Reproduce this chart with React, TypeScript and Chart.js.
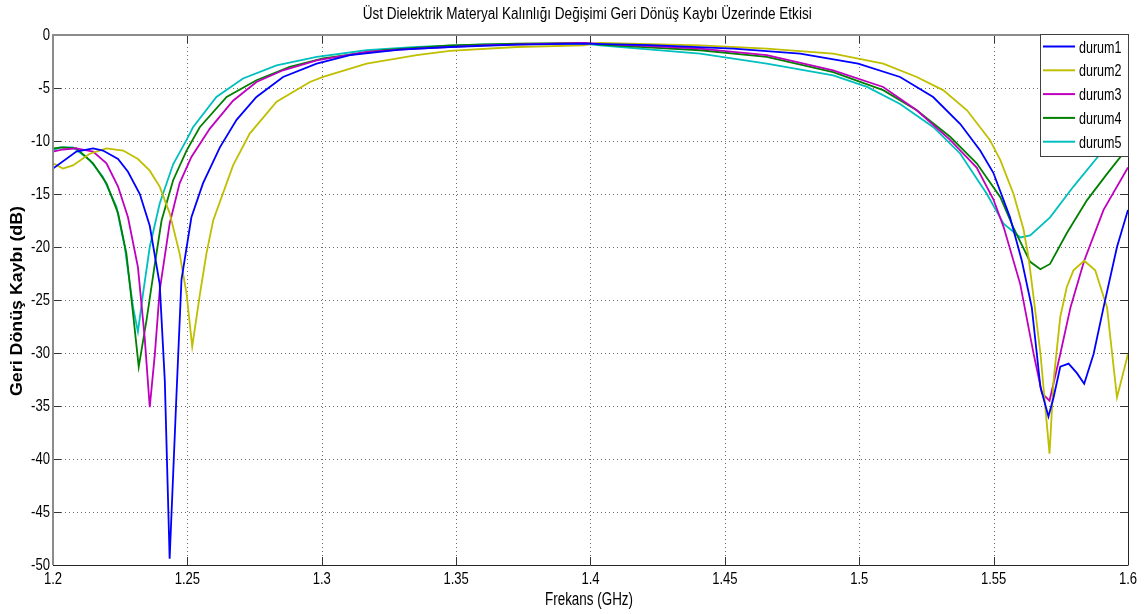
import React, { useEffect, useRef } from "react";
import { Chart, registerables } from "chart.js";

Chart.register(...registerables);

const titleText = "Üst Dielektrik Materyal Kalınlığı Değişimi Geri Dönüş Kaybı Üzerinde Etkisi";
const xAxisTitle = "Frekans (GHz)";
const yAxisTitle = "Geri Dönüş Kaybı (dB)";

const seriesNames = ["durum1", "durum2", "durum3", "durum4", "durum5"];
const seriesColors = ["#0000ff", "#bfbf00", "#bf00bf", "#008000", "#00bfbf"];

const xTicks = [1.2, 1.25, 1.3, 1.35, 1.4, 1.45, 1.5, 1.55, 1.6];
const xTickLabels = ["1.2", "1.25", "1.3", "1.35", "1.4", "1.45", "1.5", "1.55", "1.6"];
const yTicks = [0, -5, -10, -15, -20, -25, -30, -35, -40, -45, -50];
const yTickLabels = ["0", "-5", "-10", "-15", "-20", "-25", "-30", "-35", "-40", "-45", "-50"];

const durum1Freq = [1.2, 1.2087, 1.2149, 1.2186, 1.2242, 1.2279, 1.2323, 1.236, 1.2397, 1.2416, 1.2434, 1.2459, 1.2478, 1.2515, 1.2558, 1.2621, 1.2683, 1.2757, 1.2856, 1.2981, 1.3105, 1.3291, 1.3477, 1.3725, 1.3972, 1.4222, 1.4531, 1.478, 1.4996, 1.5152, 1.5275, 1.5376, 1.545, 1.5499, 1.5561, 1.5605, 1.5642, 1.5674, 1.5704, 1.5723, 1.5748, 1.5779, 1.581, 1.5837, 1.5872, 1.5909, 1.5959, 1.6];
const durum1Db = [-12.6, -11.0, -10.7, -10.9, -11.7, -12.9, -15.0, -18.0, -23.5, -32.6, -49.4, -34.2, -23.1, -17.2, -14.0, -10.6, -8.0, -5.85, -3.96, -2.7, -1.9, -1.38, -1.13, -0.9, -0.82, -0.95, -1.28, -1.75, -2.7, -3.96, -5.85, -8.4, -10.9, -13.0, -17.2, -21.3, -25.7, -33.2, -36.0, -34.2, -31.3, -31.0, -31.9, -32.9, -30.1, -25.7, -20.0, -16.5];

const durum2Freq = [1.2, 1.2037, 1.2074, 1.2137, 1.2199, 1.2261, 1.2316, 1.236, 1.2397, 1.2434, 1.2471, 1.2497, 1.2518, 1.2547, 1.2571, 1.2596, 1.2670, 1.2732, 1.2832, 1.2956, 1.3005, 1.3167, 1.3353, 1.3477, 1.3725, 1.3972, 1.4035, 1.4408, 1.4656, 1.4903, 1.5089, 1.5214, 1.5312, 1.5401, 1.5486, 1.5525, 1.5574, 1.5611, 1.563, 1.5649, 1.5674, 1.5708, 1.5723, 1.5748, 1.5772, 1.5797, 1.5837, 1.5878, 1.5922, 1.5959, 1.6];
const durum2Db = [-12.1, -12.6, -12.3, -11.2, -10.7, -10.9, -11.7, -12.8, -14.3, -16.8, -20.6, -24.4, -29.4, -24.4, -20.6, -17.5, -12.3, -9.3, -6.3, -4.43, -3.96, -2.7, -1.9, -1.5, -1.13, -0.97, -0.75, -0.97, -1.28, -1.75, -2.7, -3.96, -5.2, -7.1, -9.9, -11.8, -15.0, -18.3, -21.0, -24.8, -30.0, -39.5, -32.6, -26.6, -23.8, -22.2, -21.3, -22.2, -25.7, -34.2, -30.1];

const durum3Freq = [1.2, 1.2037, 1.2087, 1.2149, 1.2199, 1.2242, 1.2279, 1.2316, 1.2341, 1.236, 1.2379, 1.2397, 1.2434, 1.2471, 1.2515, 1.2583, 1.267, 1.2757, 1.2856, 1.2981, 1.3167, 1.3353, 1.36, 1.3972, 1.4035, 1.4408, 1.4656, 1.4903, 1.5089, 1.5214, 1.5338, 1.5437, 1.5499, 1.5537, 1.5599, 1.5649, 1.568, 1.5708, 1.5748, 1.5786, 1.5837, 1.5909, 1.6];
const durum3Db = [-11.0, -10.8, -10.7, -11.0, -12.1, -14.3, -17.2, -21.9, -28.5, -35.1, -30.1, -24.1, -17.8, -14.0, -11.5, -8.85, -6.2, -4.43, -3.33, -2.4, -1.6, -1.28, -0.97, -0.75, -0.82, -1.28, -1.9, -3.33, -4.9, -7.1, -9.9, -12.5, -15.5, -18.1, -23.5, -30.1, -33.8, -34.5, -30.1, -25.7, -21.3, -16.5, -12.5];

const durum4Freq = [1.2, 1.2037, 1.2087, 1.2149, 1.2199, 1.2242, 1.2273, 1.2298, 1.2319, 1.2348, 1.2379, 1.2404, 1.2447, 1.2497, 1.2546, 1.2646, 1.2757, 1.2881, 1.3005, 1.3229, 1.3477, 1.3725, 1.3972, 1.4035, 1.4408, 1.4656, 1.4903, 1.5089, 1.5214, 1.5338, 1.5437, 1.5525, 1.5574, 1.5636, 1.5674, 1.571, 1.5772, 1.5847, 1.5922, 1.6];
const durum4Db = [-10.7, -10.6, -10.7, -12.1, -14.0, -16.8, -20.6, -26.3, -31.3, -26.9, -21.6, -17.5, -13.7, -10.9, -8.7, -5.85, -4.27, -3.0, -2.2, -1.44, -0.97, -0.82, -0.75, -0.9, -1.44, -2.07, -3.5, -5.2, -7.1, -9.6, -12.1, -15.3, -18.2, -21.4, -22.1, -21.6, -18.7, -15.6, -13.1, -10.6];

const durum5Freq = [1.2, 1.2025, 1.2074, 1.2137, 1.2186, 1.2236, 1.2267, 1.2298, 1.2316, 1.2335, 1.236, 1.2397, 1.2447, 1.2497, 1.2521, 1.2608, 1.2707, 1.2832, 1.2981, 1.3167, 1.3353, 1.36, 1.3972, 1.4035, 1.4408, 1.4656, 1.4903, 1.5029, 1.5152, 1.5276, 1.5376, 1.5475, 1.5537, 1.5599, 1.5636, 1.571, 1.5797, 1.5897, 1.5922, 1.6];
const durum5Db = [-10.9, -10.6, -10.6, -11.8, -13.4, -16.2, -20.0, -25.7, -28.0, -24.4, -20.0, -15.9, -12.2, -9.9, -8.7, -5.85, -4.1, -2.86, -2.07, -1.44, -1.13, -0.88, -0.82, -0.97, -1.75, -2.7, -3.8, -4.9, -6.5, -8.7, -11.2, -15.0, -17.8, -19.1, -18.9, -17.2, -14.3, -11.2, -10.2, -9.0];

const seriesFreq = [durum1Freq, durum2Freq, durum3Freq, durum4Freq, durum5Freq];
const seriesDb = [durum1Db, durum2Db, durum3Db, durum4Db, durum5Db];

const FONT = '"Liberation Sans", Arial, Helvetica, sans-serif';

// draw text with a horizontal squeeze (narrow MATLAB-like glyphs)
function drawSqueezed(
  ctx: CanvasRenderingContext2D,
  text: string,
  x: number,
  y: number,
  font: string,
  scaleX: number,
  align: CanvasTextAlign
) {
  ctx.save();
  ctx.font = font;
  ctx.textAlign = align;
  ctx.textBaseline = "middle";
  ctx.translate(x, y);
  ctx.scale(scaleX, 1);
  ctx.fillText(text, 0, 0);
  ctx.restore();
}

function drawFitted(
  ctx: CanvasRenderingContext2D,
  text: string,
  x: number,
  y: number,
  font: string,
  width: number,
  align: CanvasTextAlign
) {
  ctx.save();
  ctx.font = font;
  const w = ctx.measureText(text).width;
  ctx.restore();
  drawSqueezed(ctx, text, x, y, font, width / w, align);
}

const matlabPlugin = {
  id: "matlabLook",
  beforeDatasetsDraw(chart: any) {
    const { ctx, chartArea: a, scales } = chart;
    const xs = scales.x;
    const ys = scales.y;
    ctx.save();
    ctx.strokeStyle = "#6a6a6a";
    ctx.lineWidth = 1;
    ctx.setLineDash([1, 3]);
    xTicks.forEach((v, i) => {
      if (i === 0 || i === xTicks.length - 1) return;
      const px = Math.round(xs.getPixelForValue(v)) + 0.5;
      ctx.beginPath();
      ctx.moveTo(px, a.top);
      ctx.lineTo(px, a.bottom);
      ctx.stroke();
    });
    yTicks.forEach((v, i) => {
      if (i === 0 || i === yTicks.length - 1) return;
      const py = Math.round(ys.getPixelForValue(v)) + 0.5;
      ctx.beginPath();
      ctx.moveTo(a.left, py);
      ctx.lineTo(a.right, py);
      ctx.stroke();
    });
    ctx.restore();
  },
  afterDatasetsDraw(chart: any) {
    const { ctx, chartArea: a, scales } = chart;
    const xs = scales.x;
    const ys = scales.y;
    ctx.save();
    ctx.setLineDash([]);
    ctx.strokeStyle = "#333333";
    ctx.lineWidth = 1;
    const tl = 8;
    xTicks.forEach((v) => {
      const px = Math.round(xs.getPixelForValue(v)) + 0.5;
      ctx.beginPath();
      ctx.moveTo(px, a.bottom);
      ctx.lineTo(px, a.bottom - tl);
      ctx.moveTo(px, a.top);
      ctx.lineTo(px, a.top + tl);
      ctx.stroke();
    });
    yTicks.forEach((v) => {
      const py = Math.round(ys.getPixelForValue(v)) + 0.5;
      ctx.beginPath();
      ctx.moveTo(a.left, py);
      ctx.lineTo(a.left + tl, py);
      ctx.moveTo(a.right, py);
      ctx.lineTo(a.right - tl, py);
      ctx.stroke();
    });
    ctx.strokeStyle = "#8c8c8c";
    ctx.lineWidth = 2;
    ctx.beginPath();
    ctx.moveTo(a.left, a.bottom);
    ctx.lineTo(a.left, a.top);
    ctx.lineTo(a.right, a.top);
    ctx.stroke();
    ctx.strokeStyle = "#262626";
    ctx.lineWidth = 1;
    ctx.beginPath();
    ctx.moveTo(a.left, Math.round(a.bottom) + 0.5);
    ctx.lineTo(a.right + 0.5, Math.round(a.bottom) + 0.5);
    ctx.moveTo(Math.round(a.right) + 0.5, a.bottom);
    ctx.lineTo(Math.round(a.right) + 0.5, a.top);
    ctx.stroke();
    ctx.restore();
  },
  afterDraw(chart: any) {
    const { ctx, chartArea: a, scales } = chart;
    const xs = scales.x;
    const ys = scales.y;
    ctx.save();
    ctx.fillStyle = "#000000";
    const tickFont = `17px ${FONT}`;
    const tickScale = 0.77;
    // x tick labels
    xTicks.forEach((v, i) => {
      drawSqueezed(ctx, xTickLabels[i], xs.getPixelForValue(v), 579, tickFont, tickScale, "center");
    });
    // y tick labels
    yTicks.forEach((v, i) => {
      drawSqueezed(ctx, yTickLabels[i], 50, ys.getPixelForValue(v) + 0.5, tickFont, tickScale, "right");
    });

    // legend
    const lx = 1040.5;
    const ly = 34.5;
    const lw = 88;
    const lh = 122;
    ctx.fillStyle = "#ffffff";
    ctx.fillRect(lx, ly, lw, lh);
    ctx.strokeStyle = "#404040";
    ctx.lineWidth = 1;
    ctx.strokeRect(lx, ly, lw, lh);
    seriesNames.forEach((name, i) => {
      const yy = 46.5 + i * 23.8;
      ctx.strokeStyle = seriesColors[i];
      ctx.lineWidth = 2;
      ctx.beginPath();
      ctx.moveTo(1043, yy);
      ctx.lineTo(1075, yy);
      ctx.stroke();
      ctx.fillStyle = "#000000";
      drawFitted(ctx, name, 1079, yy + 1.5, `17px ${FONT}`, 42.5, "left");
    });

    // title
    ctx.fillStyle = "#000000";
    drawFitted(ctx, titleText, 587.2, 15, `16px ${FONT}`, 449, "center");
    // x axis title
    drawFitted(ctx, xAxisTitle, 589, 600, `17.5px ${FONT}`, 88, "center");
    // y axis title (rotated)
    ctx.save();
    ctx.translate(18, 301);
    ctx.rotate(-Math.PI / 2);
    ctx.font = `bold 17px ${FONT}`;
    const w = ctx.measureText(yAxisTitle).width;
    ctx.scale(190 / w, 0.95);
    ctx.textAlign = "center";
    ctx.textBaseline = "middle";
    ctx.fillText(yAxisTitle, 0, 0);
    ctx.restore();

    ctx.restore();
  },
};

export default function App() {
  const canvasRef = useRef<HTMLCanvasElement | null>(null);

  useEffect(() => {
    const canvas = canvasRef.current;
    if (!canvas) return;
    const datasets = seriesNames.map((name, i) => ({
      label: name,
      data: seriesFreq[i].map((f, j) => ({ x: f, y: seriesDb[i][j] })),
      borderColor: seriesColors[i],
      backgroundColor: seriesColors[i],
      borderWidth: 1.8,
      pointRadius: 0,
      tension: 0,
      fill: false,
    }));
    const chart = new Chart(canvas, {
      type: "line",
      data: { datasets },
      plugins: [matlabPlugin],
      options: {
        responsive: false,
        animation: false,
        devicePixelRatio: 1,
        events: [],
        layout: { padding: { top: 35, right: 17, left: 0, bottom: 0 } },
        plugins: {
          legend: { display: false },
          title: { display: false },
          tooltip: { enabled: false },
        },
        scales: {
          x: {
            type: "linear",
            min: 1.2,
            max: 1.6,
            afterBuildTicks: (scale: any) => {
              scale.ticks = xTicks.map((v) => ({ value: v }));
            },
            afterFit: (scale: any) => {
              scale.height = 49;
            },
            grid: { display: false, drawTicks: false },
            border: { display: false },
            ticks: { display: false },
          },
          y: {
            type: "linear",
            min: -50,
            max: 0,
            afterBuildTicks: (scale: any) => {
              scale.ticks = yTicks.map((v) => ({ value: v }));
            },
            afterFit: (scale: any) => {
              scale.width = 53;
            },
            grid: { display: false, drawTicks: false },
            border: { display: false },
            ticks: { display: false },
          },
        },
      },
    });
    return () => {
      chart.destroy();
    };
  }, []);

  return (
    <div style={{ position: "absolute", left: 0, top: 0, width: 1145, height: 614, background: "#ffffff" }}>
      <canvas ref={canvasRef} width={1145} height={614} style={{ width: 1145, height: 614, display: "block" }} />
    </div>
  );
}
